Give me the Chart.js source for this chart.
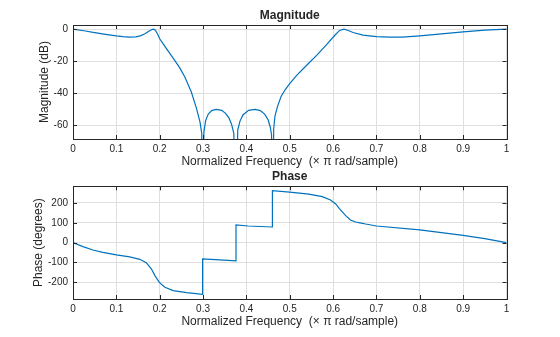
<!DOCTYPE html>
<html>
<head>
<meta charset="utf-8">
<script src="https://cdn.jsdelivr.net/npm/chart.js@4"></script>
<style>
  body { margin: 0; background: #fff; }
  #wrap { position: relative; width: 560px; height: 337px; }
  canvas { position: absolute; left: 0; }
</style>
</head>
<body>
<div id="wrap">
  <canvas id="magChart" width="560" height="168" style="top:0"></canvas>
  <canvas id="phaseChart" width="560" height="169" style="top:168px"></canvas>
</div>
<script>
// Magnitude response (freq in x pi rad/sample, dB)
const magFreq = [0, 0.025, 0.05, 0.075, 0.1, 0.115, 0.13, 0.145, 0.155, 0.165, 0.175, 0.182, 0.186, 0.19, 0.195,
  0.2, 0.21, 0.22, 0.235, 0.246, 0.258, 0.273, 0.285, 0.293, 0.297, 0.299,
  0.302, 0.306, 0.312, 0.32, 0.33, 0.343, 0.352, 0.36, 0.366, 0.371, 0.376,
  0.38, 0.385, 0.392, 0.405, 0.42, 0.432, 0.442, 0.45, 0.455, 0.458, 0.46,
  0.463, 0.466, 0.472, 0.48, 0.49, 0.5, 0.516, 0.539, 0.562, 0.585, 0.604, 0.615, 0.625, 0.635, 0.646,
  0.669, 0.7, 0.73, 0.76, 0.8, 0.85, 0.9, 0.95, 1];
const magDb = [0, -1.0, -2.1, -3.2, -4.2, -4.7, -5.0, -4.8, -4.2, -3.0, -1.3, -0.2, 0, -0.7, -3.0,
  -6.0, -10.0, -13.9, -19.6, -24.0, -29.8, -39.2, -49.6, -58, -65, -120,
  -64, -57, -53, -50.8, -50, -50.6, -52.5, -55.5, -59.5, -65, -120,
  -63, -57.5, -53.5, -50.6, -50, -50.8, -53, -56.5, -61, -66, -120,
  -62, -54, -48, -42, -37.5, -34, -28.8, -22.5, -16.3, -9.6, -3.8, -0.8, 0, -0.8, -2.1,
  -3.7, -4.6, -5.0, -5.0, -4.2, -2.9, -1.7, -0.6, 0];

// Phase response (degrees), jumps at the stopband zeros
const phaseFreq = [0, 0.023, 0.046, 0.069, 0.1, 0.131, 0.154, 0.169, 0.181, 0.189, 0.199, 0.212, 0.231, 0.262, 0.299,
  0.299, 0.338, 0.376, 0.376, 0.404, 0.46, 0.46, 0.5, 0.544, 0.575, 0.594, 0.606, 0.617, 0.629, 0.64, 0.652,
  0.662, 0.675, 0.7, 0.8, 0.9, 0.95, 1];
const phaseDeg = [0, -20, -37, -49, -62, -72, -84, -101, -133, -166, -200, -225, -242, -252, -261,
  -82, -87, -92, 89, 84, 79, 262, 255, 245, 232, 215, 195, 165, 136, 114, 104,
  100, 94, 84, 64, 37, 20, 0];

// tick labels
const freqTicks = [0, 0.1, 0.2, 0.3, 0.4, 0.5, 0.6, 0.7, 0.8, 0.9, 1];
const magTicks = [-60, -40, -20, 0];
const phaseTicks = [-200, -100, 0, 100, 200];

const axisColor = '#262626';
const lineColor = '#0072BD';
const fontFamily = '"Liberation Sans", Arial, Helvetica, sans-serif';

// box round the axes with small inward tick marks, title centred over the axes
const boxTicks = {
    id: 'boxTicks',
    afterDraw: function (chart, args, opts) {
        const ctx = chart.ctx;
        const a = chart.chartArea;
        const sx = chart.scales.x;
        const sy = chart.scales.y;
        ctx.save();
        ctx.strokeStyle = axisColor;
        ctx.lineWidth = 1;
        ctx.beginPath();
        sx.ticks.forEach(function (t) {
            const px = Math.round(sx.getPixelForValue(t.value)) + 0.5;
            ctx.moveTo(px, a.bottom); ctx.lineTo(px, a.bottom - 4);
            ctx.moveTo(px, a.top); ctx.lineTo(px, a.top + 4);
        });
        sy.ticks.forEach(function (t) {
            const py = Math.round(sy.getPixelForValue(t.value)) + 0.5;
            ctx.moveTo(a.left, py); ctx.lineTo(a.left + 4, py);
            ctx.moveTo(a.right, py); ctx.lineTo(a.right - 4, py);
        });
        ctx.stroke();
        ctx.strokeRect(Math.round(a.left) + 0.5, Math.round(a.top) + 0.5,
            Math.round(a.right) - Math.round(a.left), Math.round(a.bottom) - Math.round(a.top));

        ctx.fillStyle = axisColor;
        ctx.font = 'bold 12px ' + fontFamily;
        ctx.textAlign = 'center';
        ctx.textBaseline = 'middle';
        ctx.fillText(opts.text, (a.left + a.right) / 2, opts.y);
        ctx.restore();
    }
};

function toPoints(xs, ys) {
    return xs.map(function (x, i) { return { x: x, y: ys[i] }; });
}

function makePlot(id, p) {
    const ctx = document.getElementById(id).getContext('2d');
    return new Chart(ctx, {
        type: 'line',
        data: {
            datasets: [{
                data: toPoints(p.xs, p.ys),
                borderColor: lineColor,
                borderWidth: 1.2,
                pointRadius: 0,
                fill: false,
                tension: 0
            }]
        },
        options: {
            responsive: false,
            animation: false,
            layout: { padding: { left: 0, right: 53.5, top: p.padTop, bottom: p.padBottom } },
            plugins: {
                legend: { display: false },
                tooltip: { enabled: false },
                title: { display: false },
                boxTicks: { text: p.title, y: p.titleY }
            },
            scales: {
                x: {
                    type: 'linear',
                    min: 0,
                    max: 1,
                    afterBuildTicks: function (s) { s.ticks = freqTicks.map(function (v) { return { value: v }; }); },
                    afterFit: function (s) { s.height = p.xHeight; },
                    ticks: {
                        color: axisColor,
                        font: { family: fontFamily, size: 10 },
                        padding: 4,
                        maxRotation: 0,
                        autoSkip: false,
                        callback: function (v) { return String(v); }
                    },
                    grid: { color: '#dfdfdf', drawTicks: false },
                    border: { display: false },
                    title: {
                        display: true,
                        text: 'Normalized Frequency  (\u00D7 \u03C0 rad/sample)',
                        color: axisColor,
                        font: { family: fontFamily, size: 12, lineHeight: 1 },
                        padding: { top: 0, bottom: 0 }
                    }
                },
                y: {
                    type: 'linear',
                    min: p.yMin,
                    max: p.yMax,
                    afterBuildTicks: function (s) { s.ticks = p.yTicks.map(function (v) { return { value: v }; }); },
                    afterFit: function (s) { s.width = 73; },
                    ticks: {
                        color: axisColor,
                        font: { family: fontFamily, size: 10 },
                        padding: 5,
                        autoSkip: false,
                        callback: function (v) { return String(v); }
                    },
                    grid: { color: '#dfdfdf', drawTicks: false },
                    border: { display: false },
                    title: {
                        display: true,
                        text: p.yLabel,
                        color: axisColor,
                        font: { family: fontFamily, size: 12, lineHeight: 1 },
                        padding: { top: p.yTitlePad, bottom: 0 }
                    }
                }
            }
        },
        plugins: [boxTicks]
    });
}

makePlot('magChart', {
    xs: magFreq, ys: magDb, title: 'Magnitude', yLabel: 'Magnitude (dB)',
    yMin: -68.5, yMax: 2.6, yTicks: magTicks,
    titleY: 15.7, padTop: 25, xHeight: 29, padBottom: 0, yTitlePad: 38.3
});

makePlot('phaseChart', {
    xs: phaseFreq, ys: phaseDeg, title: 'Phase', yLabel: 'Phase (degrees)',
    yMin: -284, yMax: 284, yTicks: phaseTicks,
    titleY: 8.5, padTop: 18.3, xHeight: 29, padBottom: 9, yTitlePad: 32.3
});
</script>
</body>
</html>
